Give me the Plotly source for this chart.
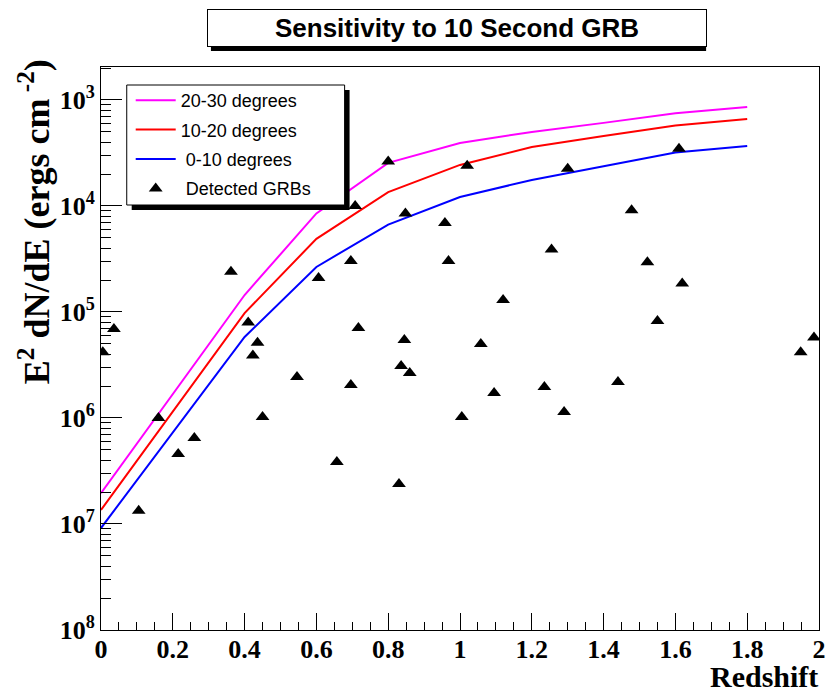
import numpy as np
import plotly.graph_objects as go

# ---- data ----
redshift_grid = [0.0, 0.2, 0.4, 0.6, 0.8, 1.0, 1.2, 1.4, 1.6, 1.8]
sens_20_30 = [1.95e-7, 1.68e-6, 1.445e-5, 8.5e-5, 2.55e-4, 3.93e-4, 4.99e-4, 6.08e-4, 7.48e-4, 8.59e-4]
sens_10_20 = [1.355e-7, 1.15e-6, 9.77e-6, 4.9e-5, 1.35e-4, 2.44e-4, 3.6e-4, 4.57e-4, 5.75e-4, 6.62e-4]
sens_0_10 = [9.16e-8, 7.3e-7, 5.81e-6, 2.66e-5, 6.68e-5, 1.216e-4, 1.76e-4, 2.37e-4, 3.2e-4, 3.68e-4]

grb_z = [0.005, 0.036, 0.105, 0.16, 0.215, 0.26, 0.362, 0.41, 0.423, 0.436, 0.45,
         0.546, 0.606, 0.657, 0.696, 0.696, 0.708, 0.717, 0.8, 0.83, 0.836, 0.845,
         0.848, 0.86, 0.958, 0.968, 1.005, 1.02, 1.058, 1.095, 1.12, 1.235, 1.255,
         1.29, 1.3, 1.44, 1.478, 1.522, 1.55, 1.61, 1.619, 1.949, 1.986]
grb_flux = [4.17e-6, 6.92e-6, 1.33e-7, 1.0e-6, 4.57e-7, 6.46e-7, 2.4e-5, 7.94e-6, 3.89e-6,
            5.13e-6, 1.02e-6, 2.44e-6, 2.09e-5, 3.85e-7, 3.02e-5, 2.05e-6, 1.0e-4, 7.08e-6,
            2.63e-4, 2.38e-7, 3.1e-6, 5.45e-6, 8.51e-5, 2.66e-6, 6.92e-5, 3.02e-5, 1.02e-6,
            2.4e-4, 5.0e-6, 1.72e-6, 1.3e-5, 1.96e-6, 3.89e-5, 1.14e-6, 2.24e-4, 2.19e-6,
            9.12e-5, 2.95e-5, 8.22e-6, 3.47e-4, 1.86e-5, 4.17e-6, 5.75e-6]

y_tickvals = [1e-8, 1e-7, 1e-6, 1e-5, 1e-4, 1e-3]
y_ticktext = ["10<sup>8</sup>", "10<sup>7</sup>", "10<sup>6</sup>", "10<sup>5</sup>",
              "10<sup>4</sup>", "10<sup>3</sup>"]
x_tickvals = [0, 0.2, 0.4, 0.6, 0.8, 1.0, 1.2, 1.4, 1.6, 1.8, 2.0]
x_ticktext = ["0", "0.2", "0.4", "0.6", "0.8", "1", "1.2", "1.4", "1.6", "1.8", "2"]

# ---- layout geometry (pixels) ----
W, H = 836, 693
L, R, T, B = 101, 826, 67, 630


def px(xp):
    return (xp - L) / (R - L)


def py(yp):
    return (B - yp) / (B - T)


fig = go.Figure()
fig.add_trace(go.Scatter(x=redshift_grid, y=sens_20_30, mode="lines", name="20-30 degrees",
                         line=dict(color="#ff00ff", width=2), legendgroup="a"))
fig.add_trace(go.Scatter(x=redshift_grid, y=sens_10_20, mode="lines", name="10-20 degrees",
                         line=dict(color="#ff0000", width=2), legendgroup="b"))
fig.add_trace(go.Scatter(x=redshift_grid, y=sens_0_10, mode="lines", name="\u00a00-10 degrees",
                         line=dict(color="#0000ff", width=2), legendgroup="c"))
fig.add_trace(go.Scatter(x=grb_z, y=grb_flux, mode="markers", name="\u00a0Detected GRBs",
                         marker=dict(symbol="triangle-up", size=12, color="black"),
                         legendgroup="d"))

minor_vals = [m * 10.0 ** e for e in range(-8, -2) for m in range(2, 10)]

serif = "Liberation Serif"
sans = "Liberation Sans"

fig.update_layout(
    width=W, height=H,
    margin=dict(l=L, r=W - R, t=T, b=H - B, pad=0),
    paper_bgcolor="white", plot_bgcolor="white",
    showlegend=True,
    legend=dict(x=px(131), y=py(82), xanchor="left", yanchor="top",
                bgcolor="rgba(0,0,0,0)", borderwidth=0,
                font=dict(family=sans, size=18, color="black"),
                itemwidth=40, tracegroupgap=3, traceorder="grouped"),
    xaxis=dict(range=[0, 2], showgrid=False, zeroline=False,
               showline=True, linecolor="black", linewidth=1, mirror=True,
               ticks="inside", ticklen=17, tickcolor="black",
               tickmode="array", tickvals=x_tickvals, ticktext=x_ticktext,
               ticklabelstandoff=-4,
               tickfont=dict(family=serif, size=26, color="black", weight="bold"),
               minor=dict(ticks="inside", ticklen=8, tickcolor="black", dtick=0.05,
                          tick0=0, showgrid=False)),
    yaxis=dict(type="log", range=[-8, -2.689], showgrid=False, zeroline=False,
               showline=True, linecolor="black", linewidth=1, mirror=True,
               ticks="inside", ticklen=21, tickcolor="black",
               tickmode="array", tickvals=y_tickvals, ticktext=y_ticktext,
               tickfont=dict(family=serif, size=26, color="black", weight="bold"),
               minor=dict(ticks="inside", ticklen=10, tickcolor="black",
                          tickmode="array", tickvals=minor_vals, showgrid=False)),
    shapes=[
        # legend shadow and box
        dict(type="rect", xref="paper", yref="paper", x0=px(132), x1=px(352),
             y0=py(210), y1=py(90), fillcolor="black", line=dict(width=0), layer="above"),
        dict(type="rect", xref="paper", yref="paper", x0=px(127), x1=px(347),
             y0=py(205), y1=py(85), fillcolor="white", line=dict(color="black", width=1),
             layer="above"),
        # title shadow
        dict(type="rect", xref="paper", yref="paper", x0=px(212), x1=px(712),
             y0=py(51), y1=py(13), fillcolor="black", line=dict(width=0), layer="above"),
    ],
    annotations=[
        dict(text="<b>Sensitivity to 10 Second GRB</b>", xref="paper", yref="paper",
             x=px(208), y=py(9), xanchor="left", yanchor="top", showarrow=False,
             width=498, height=36, bgcolor="white", bordercolor="black", borderwidth=1,
             borderpad=0, font=dict(family=sans, size=26, color="black")),
        dict(text="<b>E<sup>2</sup> dN/dE (ergs cm<sup> -2</sup>)</b>", xref="paper",
             yref="paper", x=px(34), y=py(57), xanchor="center", yanchor="top",
             textangle=-90, showarrow=False,
             font=dict(family=serif, size=36, color="black")),
        dict(text="<b>Redshift</b>", xref="paper", yref="paper", x=px(827), y=py(676),
             xanchor="right", yanchor="middle", showarrow=False,
             font=dict(family=serif, size=30, color="black")),
    ],
)

fig.write_html("out.html")
